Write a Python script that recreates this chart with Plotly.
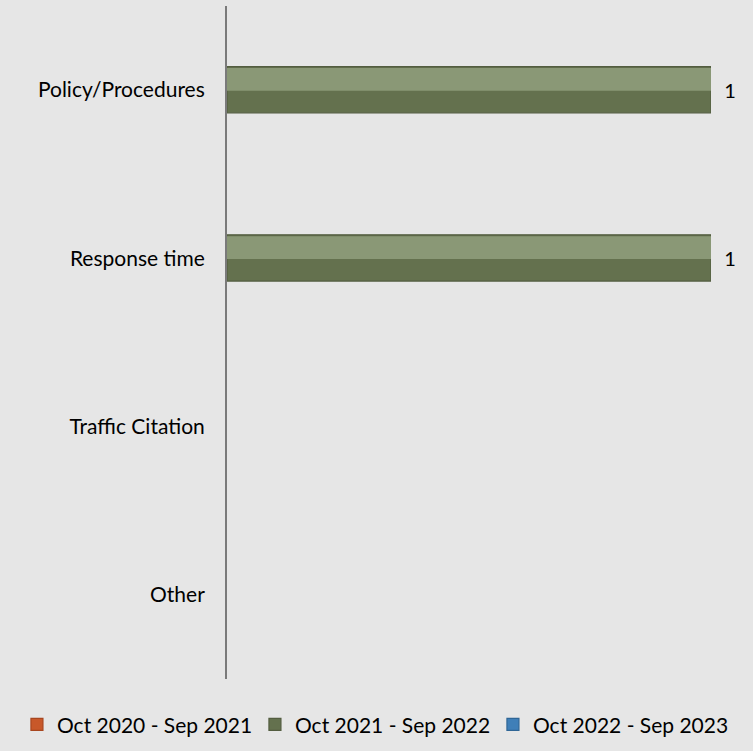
import plotly.graph_objects as go

categories = ["Policy/Procedures", "Response time", "Traffic Citation", "Other"]
series_names = ["Oct 2020 - Sep 2021", "Oct 2021 - Sep 2022", "Oct 2022 - Sep 2023"]
values_2021 = [None, None, None, None]
values_2022 = [1, 1, None, None]
values_2023 = [None, None, None, None]
colors = ["#c8582a", "#64714e", "#3f7fb8"]
line_colors = ["#a8461f", "#535d40", "#2f6696"]
highlight_colors = ["#e08a62", "#8a9876", "#7aaad6"]

series_values = [values_2021, values_2022, values_2023]
bar_width = 0.275
offsets = [-0.41, -0.14, 0.137]

fig = go.Figure()
for name, vals, col, lc, off in zip(series_names, series_values, colors, line_colors, offsets):
    fig.add_trace(go.Bar(
        y=categories, x=vals, name=name, orientation="h",
        width=bar_width, offset=off,
        marker=dict(color=col, line=dict(color=lc, width=1.2)),
        text=[("  %d" % v) if v is not None else "" for v in vals],
        textposition="outside", cliponaxis=False,
        textfont=dict(family="Lato", size=20, color="#000000"),
        hoverinfo="skip",
    ))
# bevel highlight on the upper face of each bar
for name, vals, hc, off in zip(series_names, series_values, highlight_colors, offsets):
    fig.add_trace(go.Bar(
        y=categories, x=vals, name=name, orientation="h",
        width=0.135, offset=off + 0.008,
        marker=dict(color=hc, line=dict(width=0)),
        showlegend=False, hoverinfo="skip",
    ))

fig.update_layout(
    width=753, height=751,
    paper_bgcolor="#e6e6e6", plot_bgcolor="#e6e6e6",
    margin=dict(l=227, r=42, t=6, b=72),
    barmode="overlay",
    font=dict(family="Lato", size=21, color="#000000"),
    showlegend=True,
    legend=dict(orientation="h", x=-0.434, xanchor="left",
                y=-0.068, yanchor="middle",
                font=dict(family="Lato", size=21, color="#000000"),
                traceorder="normal", itemwidth=30, bgcolor="rgba(0,0,0,0)",
                entrywidth=193, entrywidthmode="pixels"),
    xaxis=dict(range=[0, 1], showticklabels=False, showgrid=True,
               gridcolor="#b4b4b4", gridwidth=1.5, zeroline=False,
               showline=False, dtick=1, fixedrange=True),
    yaxis=dict(autorange="reversed", showline=True, linecolor="#7a7a7a",
               linewidth=2, showgrid=False, ticks="", ticklabelstandoff=16,
               tickfont=dict(family="Lato", size=21, color="#000000")),
)

fig.write_html("out.html", config={"displayModeBar": False},
               post_script="document.body.style.margin='0';document.body.style.background='#e6e6e6';")
